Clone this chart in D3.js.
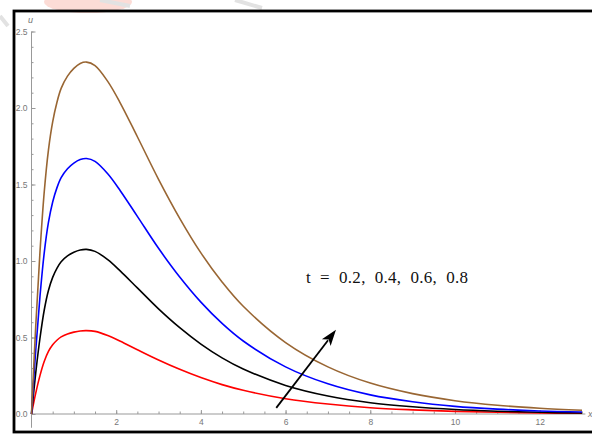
<!DOCTYPE html>
<html>
<head>
<meta charset="utf-8">
<script src="https://cdn.jsdelivr.net/npm/d3@7"></script>
<style>
  body { margin: 0; background: #fff; }
  svg { display: block; }
</style>
</head>
<body>
<div id="chart"></div>
<script>
// values
const xValues = [0, 0.1, 0.2, 0.3, 0.4, 0.5, 0.6, 0.7, 0.85, 1.0, 1.15, 1.3, 1.5, 1.8, 2.1, 2.5, 3.0, 3.5, 4.0, 4.5, 5, 6, 7, 8, 9, 10, 11, 12, 13];
const uT02 = [0, 0.136, 0.251, 0.343, 0.409, 0.452, 0.482, 0.504, 0.523, 0.535, 0.543, 0.545, 0.540, 0.513, 0.475, 0.420, 0.353, 0.292, 0.238, 0.192, 0.155, 0.100, 0.065, 0.041, 0.027, 0.017, 0.011, 0.007, 0.0045];
const uT04 = [0, 0.269, 0.495, 0.678, 0.807, 0.893, 0.952, 0.995, 1.033, 1.057, 1.072, 1.076, 1.063, 1.009, 0.934, 0.824, 0.687, 0.564, 0.457, 0.367, 0.294, 0.187, 0.118, 0.074, 0.047, 0.029, 0.018, 0.011, 0.007];
const uT06 = [0, 0.417, 0.768, 1.052, 1.252, 1.386, 1.478, 1.545, 1.603, 1.640, 1.663, 1.670, 1.651, 1.570, 1.458, 1.292, 1.083, 0.895, 0.731, 0.592, 0.477, 0.308, 0.197, 0.125, 0.080, 0.050, 0.032, 0.020, 0.013];
const uT08 = [0, 0.575, 1.058, 1.449, 1.725, 1.909, 2.036, 2.128, 2.208, 2.259, 2.291, 2.300, 2.277, 2.174, 2.031, 1.812, 1.534, 1.279, 1.053, 0.863, 0.704, 0.467, 0.308, 0.202, 0.133, 0.087, 0.057, 0.038, 0.025];

const seriesNames = ['t = 0.2', 't = 0.4', 't = 0.6', 't = 0.8'];
const seriesColors = ['#ff0000', '#000000', '#0000ff', '#996633'];
const xTicks = [2, 4, 6, 8, 10, 12];
const yTicks = [0, 0.5, 1.0, 1.5, 2.0, 2.5];
const label = 't  =  0.2,  0.4,  0.6,  0.8';

const width = 592, height = 437;
const svg = d3.select('#chart').append('svg')
    .attr('width', width).attr('height', height);

// faint watermark bits at the top
svg.append('ellipse').attr('cx', 88).attr('cy', 2).attr('rx', 44).attr('ry', 11)
    .style('fill', '#fbd3cc').style('opacity', 0.8);
svg.append('path').attr('d', 'M100,0 L130,6 M235,0 L262,8 M0,16 L8,26')
    .style('stroke', '#e2e2e2').style('stroke-width', 4).style('fill', 'none');

const x = d3.scaleLinear().domain([0, 13]).range([31.5, 582]);
const y = d3.scaleLinear().domain([0, 2.5]).range([414, 31.5]);

const axisColor = '#999';
const textColor = '#777';

// y axis
const gy = svg.append('g').attr('transform', `translate(${x(0)},0)`);
gy.call(d3.axisLeft(y).tickValues(d3.range(0, 2.51, 0.1)).tickSize(-2).tickFormat(''));
gy.call(g => g.select('.domain').remove());
const gy2 = svg.append('g').attr('transform', `translate(${x(0)},0)`);
gy2.call(d3.axisLeft(y).tickValues(yTicks).tickSize(-4).tickPadding(4).tickFormat(d3.format('.1f')));
gy2.select('.domain').remove();
svg.append('line')
    .attr('x1', x(0)).attr('x2', x(0))
    .attr('y1', y(-0.09)).attr('y2', y(2.5))
    .style('stroke', axisColor);

// x axis
const gx = svg.append('g').attr('transform', `translate(0,${y(0)})`);
gx.call(d3.axisBottom(x).tickValues(d3.range(0.5, 13.01, 0.5)).tickSize(-2.5).tickFormat(''));
gx.select('.domain').remove();
const gx2 = svg.append('g').attr('transform', `translate(0,${y(0)})`);
gx2.call(d3.axisBottom(x).tickValues(xTicks).tickSize(-4).tickPadding(4.5).tickFormat(d3.format('d')));
gx2.select('.domain').remove();
svg.append('line')
    .attr('x1', x(0)).attr('x2', x(13.08))
    .attr('y1', y(0)).attr('y2', y(0))
    .style('stroke', axisColor);

svg.selectAll('.tick line').style('stroke', axisColor);
svg.selectAll('.tick text')
    .style('fill', textColor)
    .style('font-family', 'Liberation Sans, Arial, sans-serif')
    .style('font-size', '8.5px');

svg.append('text').attr('x', x(0) - 1).attr('y', 23)
    .attr('text-anchor', 'middle')
    .style('font-family', 'Liberation Sans, Arial, sans-serif')
    .style('font-style', 'italic').style('font-size', '9px')
    .style('fill', textColor).text('u');
svg.append('text').attr('x', 588).attr('y', 417)
    .style('font-family', 'Liberation Sans, Arial, sans-serif')
    .style('font-style', 'italic').style('font-size', '9px')
    .style('fill', textColor).text('x');

// curves
const series = [uT02, uT04, uT06, uT08];
const line = d3.line()
    .x(d => x(d[0]))
    .y(d => y(d[1]))
    .curve(d3.curveCatmullRom.alpha(0.5));

svg.append('g').selectAll('path')
    .data(series)
    .enter()
    .append('path')
    .attr('class', (d, i) => 'curve s' + i)
    .attr('d', d => line(xValues.map((v, i) => [v, d[i]])))
    .style('fill', 'none')
    .style('stroke', (d, i) => seriesColors[i])
    .style('stroke-width', 1.6);

// annotation text + arrow
svg.append('text')
    .attr('x', 306).attr('y', 283)
    .attr('textLength', 162)
    .style('font-family', 'Liberation Serif, Times New Roman, serif')
    .style('font-size', '17px')
    .style('fill', '#111')
    .style('white-space', 'pre')
    .text(label);

const a0 = [x(5.78), y(0.04)];
const a1 = [x(7.19), y(0.55)];
const ang = Math.atan2(a1[1] - a0[1], a1[0] - a0[0]);
const headLen = 16, headW = 5.5;
const base = [a1[0] - headLen * Math.cos(ang), a1[1] - headLen * Math.sin(ang)];
svg.append('line')
    .attr('x1', a0[0]).attr('y1', a0[1])
    .attr('x2', base[0] + 3 * Math.cos(ang)).attr('y2', base[1] + 3 * Math.sin(ang))
    .style('stroke', '#000').style('stroke-width', 1.8);
svg.append('path')
    .attr('d', d3.line()([
        a1,
        [base[0] + headW * Math.sin(ang), base[1] - headW * Math.cos(ang)],
        [base[0] + 4 * Math.cos(ang), base[1] + 4 * Math.sin(ang)],
        [base[0] - headW * Math.sin(ang), base[1] + headW * Math.cos(ang)]
    ]) + 'Z')
    .style('fill', '#000');

// frame
svg.append('rect')
    .attr('x', 14).attr('y', 11)
    .attr('width', 600).attr('height', 421)
    .style('fill', 'none').style('stroke', '#000').style('stroke-width', 2.8);

// caption, cut off at the bottom edge as in the source image
svg.append('text')
    .attr('x', 115).attr('y', 450)
    .attr('textLength', 425)
    .style('font-family', 'Liberation Serif, Times New Roman, serif')
    .style('font-weight', 'bold').style('font-size', '18px')
    .style('fill', '#000')
    .text('Fig. 2. Velocity profiles of u for different values of t');
</script>
</body>
</html>
